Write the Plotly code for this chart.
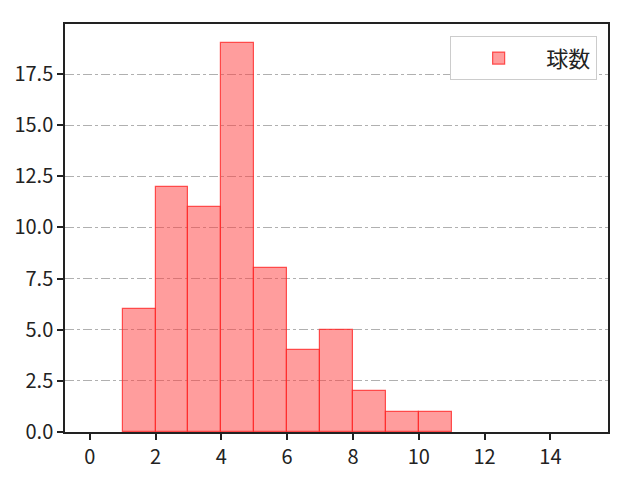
import plotly.graph_objects as go

# histogram bins (left edges) and counts
bin_left = [1, 2, 3, 4, 5, 6, 7, 8, 9, 10]
counts = [6, 12, 11, 19, 8, 4, 5, 2, 1, 1]
series_name = "球数"

FONT = "Noto Sans CJK JP, DejaVu Sans, sans-serif"

fig = go.Figure()
fig.add_trace(go.Bar(
    x=[b + 0.5 for b in bin_left],
    y=counts,
    width=1,
    name=series_name,
    marker=dict(color="rgba(255,60,60,0.5)", line=dict(color="rgba(255,40,40,0.8)", width=1.2)),
    showlegend=True,
))

fig.update_layout(
    width=640, height=480,
    margin=dict(l=65, r=32, t=24, b=48),
    paper_bgcolor="white", plot_bgcolor="white",
    font=dict(family=FONT, size=20, color="#222222"),
    bargap=0,
    legend=dict(
        x=0.98, y=0.97, xanchor="right", yanchor="top",
        bgcolor="white", bordercolor="#cccccc", borderwidth=1,
        font=dict(family=FONT, size=22, color="#222222"), itemwidth=85,
    ),
)
fig.update_xaxes(
    range=[-0.75, 15.75], tickmode="array", tickvals=list(range(0, 15, 2)),
    tickfont=dict(family=FONT, size=20, color="#222222"),
    showgrid=False, zeroline=False,
    showline=True, linecolor="#222222", linewidth=1.5, mirror=True,
    ticks="outside", ticklen=6, tickwidth=1.5, tickcolor="#222222",
    automargin=False,
)
fig.update_yaxes(
    range=[0, 19.95], tickmode="array", tickvals=[0, 2.5, 5, 7.5, 10, 12.5, 15, 17.5],
    tickformat=".1f",
    tickfont=dict(family=FONT, size=20, color="#222222"),
    showgrid=True, gridcolor="#b0b0b0", gridwidth=1, griddash="dashdot",
    zeroline=False,
    showline=True, linecolor="#222222", linewidth=1.5, mirror=True,
    ticks="outside", ticklen=6, tickwidth=1.5, tickcolor="#222222",
    automargin=False,
)

fig.write_html("out.html", config={"displayModeBar": False},
               post_script="document.body.style.margin='0';")
